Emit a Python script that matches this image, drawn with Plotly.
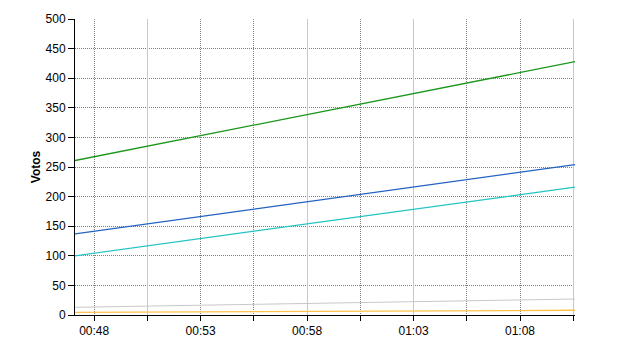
import plotly.graph_objects as go

# ---- data ----
times = ["2024-01-01 00:47:06", "2024-01-01 01:10:35"]
serie_verde = [261, 428]
serie_azul = [137, 254]
serie_ciano = [100, 216]
serie_cinza = [13, 27]
serie_laranja = [4.5, 8]

y_ticks = [0, 50, 100, 150, 200, 250, 300, 350, 400, 450, 500]
grid_dotted = ["2024-01-01 00:48:00", "2024-01-01 00:53:00", "2024-01-01 00:55:30",
               "2024-01-01 01:00:30", "2024-01-01 01:05:30", "2024-01-01 01:08:00"]
grid_solid = ["2024-01-01 00:50:30", "2024-01-01 00:58:00", "2024-01-01 01:03:00",
              "2024-01-01 01:10:30"]
x_range = ["2024-01-01 00:47:06", "2024-01-01 01:10:35"]

FONT = "Liberation Sans, Arial, sans-serif"

fig = go.Figure()
fig.add_trace(go.Scatter(x=times, y=serie_cinza, mode="lines",
                         line=dict(color="#c8c8c8", width=1), xaxis="x2"))
fig.add_trace(go.Scatter(x=times, y=serie_laranja, mode="lines",
                         line=dict(color="#ffc24a", width=1.3), xaxis="x3"))
fig.add_trace(go.Scatter(x=times, y=serie_ciano, mode="lines",
                         line=dict(color="#22c4c4", width=1.3)))
fig.add_trace(go.Scatter(x=times, y=serie_azul, mode="lines",
                         line=dict(color="#2262c2", width=1.3)))
fig.add_trace(go.Scatter(x=times, y=serie_verde, mode="lines",
                         line=dict(color="#1a961a", width=1.3)))

fig.update_layout(
    width=640, height=350,
    margin=dict(l=75, r=65, t=15, b=35),
    paper_bgcolor="white", plot_bgcolor="white",
    showlegend=False,
    font=dict(family=FONT, size=12, color="black"),
    xaxis=dict(
        type="date", range=x_range,
        tick0="2024-01-01 00:48:00", dtick=300000, tickformat="%H:%M",
        ticks="outside", ticklen=5, tickcolor="black", tickwidth=1,
        minor=dict(ticks="outside", ticklen=5, tickcolor="black",
                   tick0="2024-01-01 00:48:00", dtick=150000, showgrid=False),
        showgrid=False, zeroline=False,
        showline=True, linecolor="black", linewidth=1,
        tickfont=dict(family=FONT, size=12, color="black"),
    ),
    xaxis2=dict(
        type="date", overlaying="x", matches="x",
        tickmode="array", tickvals=grid_dotted,
        showticklabels=False, ticks="", showline=False, zeroline=False,
        showgrid=True, gridcolor="#808080", gridwidth=1, griddash="1px,1px",
    ),
    xaxis3=dict(
        type="date", overlaying="x", matches="x",
        tickmode="array", tickvals=grid_solid,
        showticklabels=False, ticks="", showline=False, zeroline=False,
        showgrid=True, gridcolor="#c8c8c8", gridwidth=1,
    ),
    yaxis=dict(
        range=[0, 500], tickmode="array", tickvals=y_ticks,
        ticks="outside", ticklen=6, tickcolor="black", tickwidth=1,
        showgrid=True, gridcolor="#808080", gridwidth=1, griddash="1px,1px",
        zeroline=False, showline=True, linecolor="black", linewidth=1,
        tickfont=dict(family=FONT, size=12, color="black"),
        title=dict(text="<b>Votos</b>", standoff=2,
                   font=dict(family=FONT, size=12, color="black")),
    ),
)

fig.write_html("out.html")
